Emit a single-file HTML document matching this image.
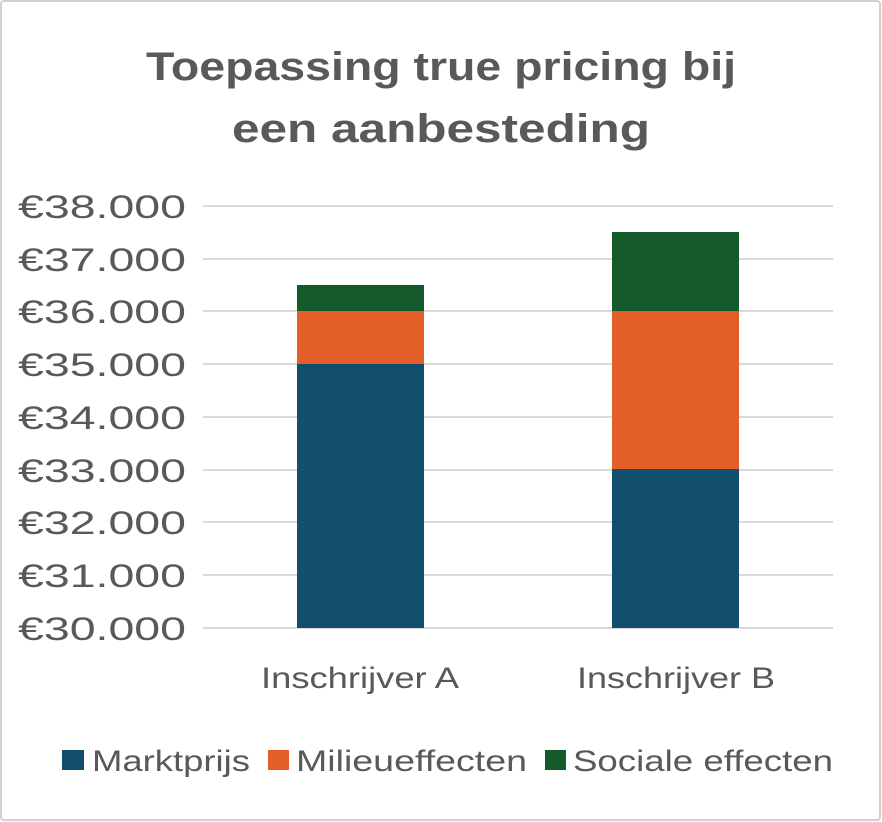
<!DOCTYPE html>
<html><head><meta charset="utf-8"><style>
html,body{margin:0;padding:0;background:#fff;}
svg{display:block;font-family:"Liberation Sans",sans-serif;}
</style></head><body>
<svg width="882" height="822" viewBox="0 0 882 822">
<rect x="1" y="1" width="879" height="819" rx="3" fill="#fff" stroke="#d0d0d0" stroke-width="2"/>
<g fill="#595959" font-weight="bold" font-size="40" text-anchor="middle">
<text x="441" y="80" textLength="590" lengthAdjust="spacingAndGlyphs">Toepassing true pricing bij</text>
<text x="441" y="142" textLength="418" lengthAdjust="spacingAndGlyphs">een aanbesteding</text>
</g>
<g stroke="#d9d9d9" stroke-width="2">
<line x1="203" x2="833" y1="206" y2="206"/><line x1="203" x2="833" y1="259" y2="259"/>
<line x1="203" x2="833" y1="311" y2="311"/><line x1="203" x2="833" y1="364" y2="364"/>
<line x1="203" x2="833" y1="417" y2="417"/><line x1="203" x2="833" y1="470" y2="470"/>
<line x1="203" x2="833" y1="522" y2="522"/><line x1="203" x2="833" y1="575" y2="575"/>
<line x1="203" x2="833" y1="628" y2="628"/>
</g>
<g fill="#595959" font-size="32">
<text x="18" y="218" textLength="168" lengthAdjust="spacingAndGlyphs">€38.000</text>
<text x="18" y="271" textLength="168" lengthAdjust="spacingAndGlyphs">€37.000</text>
<text x="18" y="323" textLength="168" lengthAdjust="spacingAndGlyphs">€36.000</text>
<text x="18" y="376" textLength="168" lengthAdjust="spacingAndGlyphs">€35.000</text>
<text x="18" y="429" textLength="168" lengthAdjust="spacingAndGlyphs">€34.000</text>
<text x="18" y="482" textLength="168" lengthAdjust="spacingAndGlyphs">€33.000</text>
<text x="18" y="534" textLength="168" lengthAdjust="spacingAndGlyphs">€32.000</text>
<text x="18" y="587" textLength="168" lengthAdjust="spacingAndGlyphs">€31.000</text>
<text x="18" y="640" textLength="168" lengthAdjust="spacingAndGlyphs">€30.000</text>
</g>
<rect x="297" y="364" width="127" height="264" fill="#124E6E"/>
<rect x="297" y="311" width="127" height="53" fill="#E35F27"/>
<rect x="297" y="285" width="127" height="26" fill="#145A2B"/>
<rect x="612" y="469" width="127" height="159" fill="#124E6E"/>
<rect x="612" y="311" width="127" height="158" fill="#E35F27"/>
<rect x="612" y="232" width="127" height="79" fill="#145A2B"/>
<g fill="#595959" font-size="30" text-anchor="middle">
<text x="360" y="688" textLength="198" lengthAdjust="spacingAndGlyphs">Inschrijver A</text>
<text x="676" y="688" textLength="198" lengthAdjust="spacingAndGlyphs">Inschrijver B</text>
</g>
<rect x="62" y="750" width="22" height="20" fill="#124E6E"/>
<rect x="268" y="750" width="21" height="20" fill="#E35F27"/>
<rect x="545" y="750" width="21" height="20" fill="#145A2B"/>
<g fill="#595959" font-size="30">
<text x="92" y="771" textLength="158" lengthAdjust="spacingAndGlyphs">Marktprijs</text>
<text x="296" y="771" textLength="231" lengthAdjust="spacingAndGlyphs">Milieueffecten</text>
<text x="573" y="771" textLength="260" lengthAdjust="spacingAndGlyphs">Sociale effecten</text>
</g>
</svg>
</body></html>
